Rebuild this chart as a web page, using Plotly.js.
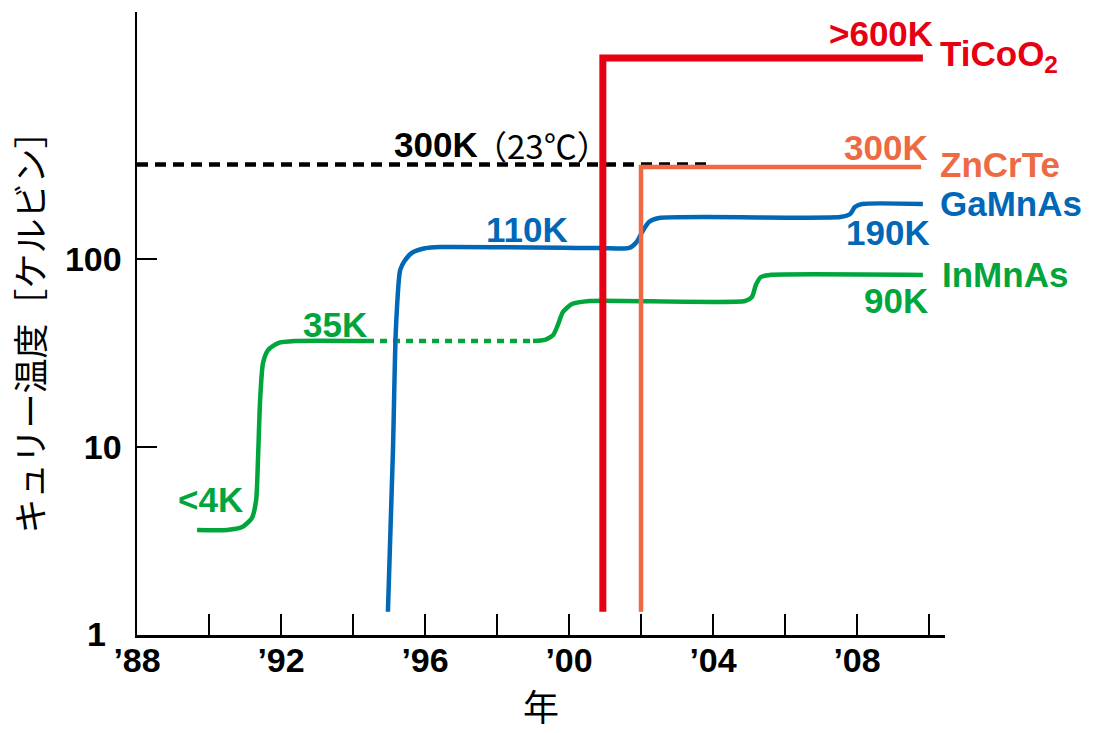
<!DOCTYPE html>
<html>
<head>
<meta charset="utf-8">
<script src="https://cdn.plot.ly/plotly-3.0.1.min.js"></script>
<style>html,body{margin:0;padding:0;background:#fff;}</style>
</head>
<body>
<div id="chart" style="width:1094px;height:733px;"></div>
<script>
// ---- data (years, Curie temperature in K) ----
const inmnasX1 = [1989.67, 1990.5, 1990.92, 1991.19, 1991.31, 1991.36, 1991.42, 1991.5, 1991.64, 1991.92, 1992.39, 1994.39];
const inmnasY1 = [3.62, 3.62, 3.75, 4.19, 5.23, 8.53, 17.8, 28.0, 32.8, 35.7, 36.6, 36.6];
const inmnasGapX = [1994.39, 1999.0];
const inmnasGapY = [36.6, 36.6];
const inmnasX2 = [1999.0, 1999.33, 1999.56, 1999.69, 1999.83, 2000.08, 2000.58, 2004.89, 2005.08, 2005.19, 2005.33, 2005.58, 2009.83];
const inmnasY2 = [36.6, 37.1, 39.4, 44.6, 52.2, 57.6, 59.8, 59.8, 62.8, 72.7, 80.2, 82.2, 82.2];

const gamnasX = [1994.97, 1995.11, 1995.19, 1995.31, 1995.44, 1995.64, 1996.0, 1996.42, 2000.86, 2001.67, 2001.89, 2002.03, 2002.22, 2002.5, 2007.53, 2007.81, 2007.94, 2008.14, 2009.83];
const gamnasY = [1.33, 9.64, 41.9, 87.4, 98.3, 108.0, 114.0, 115.8, 114.5, 114.5, 124.0, 139.2, 157.3, 165.2, 167.2, 173.5, 189.1, 196.2, 196.2];

const ticoo2X = [2000.94, 2000.94, 2009.83];
const ticoo2Y = [1.33, 1172, 1172];

const zncrteX = [2002.0, 2002.0, 2009.78];
const zncrteY = [1.33, 309, 309];

const roomX = [1988.0, 2003.83];
const roomY = [318, 318];

const xTickVals = [1988, 1992, 1996, 2000, 2004, 2008];
const xTickText = ['’88', '’92', '’96', '’00', '’04', '’08'];
const xMinorVals = [1990, 1994, 1998, 2002, 2006, 2010];
const yTickVals = [10, 100];
const yTickText = ['10', '100'];
const yBottomLabel = '1';

const seriesNames = ['InMnAs', 'GaMnAs', 'ZnCrTe', 'TiCoO<sub>2</sub>'];
const valueLabels = ['<4K', '35K', '90K', '110K', '190K', '300K', '>600K'];
const roomLabelBold = '300K';
const roomLabelRest = '（23℃）';

// ---- styles ----
const GREEN = '#00a53c', BLUE = '#0068b7', RED = '#e60012', ORANGE = '#ed6a43';
const BOLD = 'Liberation Sans, Arial, sans-serif';
const CJK = 'Noto Sans CJK JP, sans-serif';

const traces = [
  {x: roomX, y: roomY, mode: 'lines', line: {color: '#000', width: 4.5, dash: '11px,7px'}},
  {x: inmnasX1, y: inmnasY1, mode: 'lines', line: {color: GREEN, width: 4.5, shape: 'spline', smoothing: 0.6}},
  {x: inmnasGapX, y: inmnasGapY, mode: 'lines', line: {color: GREEN, width: 4.5, dash: '7px,6px'}},
  {x: inmnasX2, y: inmnasY2, mode: 'lines', line: {color: GREEN, width: 4.5, shape: 'spline', smoothing: 0.6}},
  {x: gamnasX, y: gamnasY, mode: 'lines', line: {color: BLUE, width: 4.5, shape: 'spline', smoothing: 0.6}},
  {x: zncrteX, y: zncrteY, mode: 'lines', line: {color: ORANGE, width: 4.5}},
  {x: ticoo2X, y: ticoo2Y, mode: 'lines', line: {color: RED, width: 7}}
];

// pixel -> paper helpers for label placement
const L = 137, R = 945, T = 12, B = 635;
const px = v => (v - L) / (R - L);
const py = v => (B - v) / (B - T);
function lab(text, xPix, yPix, anchor, color, font, size) {
  return {text: text, xref: 'paper', yref: 'paper', x: px(xPix), y: py(yPix),
    xanchor: anchor, yanchor: 'middle', showarrow: false,
    font: {family: font || BOLD, size: size || 35, color: color, weight: font ? 'normal' : 'bold'}};
}

const annotations = [
  lab(yBottomLabel, 108, 634, 'right', '#000', null, 34),
  lab(valueLabels[0], 245, 500, 'right', GREEN),
  lab(valueLabels[1], 369, 325, 'right', GREEN),
  lab(valueLabels[3], 570, 230, 'right', BLUE),
  lab(roomLabelBold, 480, 145, 'right', '#000'),
  lab(roomLabelRest, 472, 145, 'left', '#000', CJK, 33),
  lab(valueLabels[6], 935, 34, 'right', RED),
  lab(seriesNames[3], 938, 56, 'left', RED),
  lab(valueLabels[5], 930, 147, 'right', ORANGE),
  lab(seriesNames[2], 938, 165, 'left', ORANGE),
  lab(seriesNames[1], 938, 203, 'left', BLUE),
  lab(valueLabels[4], 932, 232, 'right', BLUE),
  lab(seriesNames[0], 940, 274, 'left', GREEN),
  lab(valueLabels[2], 930, 300, 'right', GREEN)
];
annotations[0].font.weight = 'bold';
annotations[0].font.family = BOLD;

const layout = {
  width: 1094, height: 733,
  margin: {l: L, r: 1094 - R, t: T, b: 733 - B},
  paper_bgcolor: '#fff', plot_bgcolor: '#fff',
  showlegend: false,
  xaxis: {
    range: [1988, 2010.444], showgrid: false, zeroline: false,
    showline: true, linecolor: '#000', linewidth: 2.5,
    ticks: 'inside', ticklen: 21, tickwidth: 2, tickcolor: '#000',
    tickmode: 'array', tickvals: xTickVals, ticktext: xTickText,
    minor: {tickmode: 'array', tickvals: xMinorVals, ticks: 'inside', ticklen: 21, tickwidth: 2, tickcolor: '#000', showgrid: false},
    tickfont: {family: BOLD, size: 34, color: '#000', weight: 'bold'},
    ticklabelstandoff: -6,
    title: {text: '年', font: {family: CJK, size: 36, color: '#000'}, standoff: 16}
  },
  yaxis: {
    type: 'log', range: [0, 3.314], showgrid: false, zeroline: false,
    showline: true, linecolor: '#000', linewidth: 2.5,
    ticks: 'inside', ticklen: 20, tickwidth: 2, tickcolor: '#000',
    tickmode: 'array', tickvals: yTickVals, ticktext: yTickText,
    tickfont: {family: BOLD, size: 34, color: '#000', weight: 'bold'},
    ticklabelstandoff: 6,
    title: {text: 'キュリー温度［ケルビン］', font: {family: CJK, size: 35, color: '#000'}, standoff: 10}
  },
  annotations: annotations
};

Plotly.newPlot('chart', traces, layout, {displayModeBar: false, staticPlot: true});
</script>
</body>
</html>
